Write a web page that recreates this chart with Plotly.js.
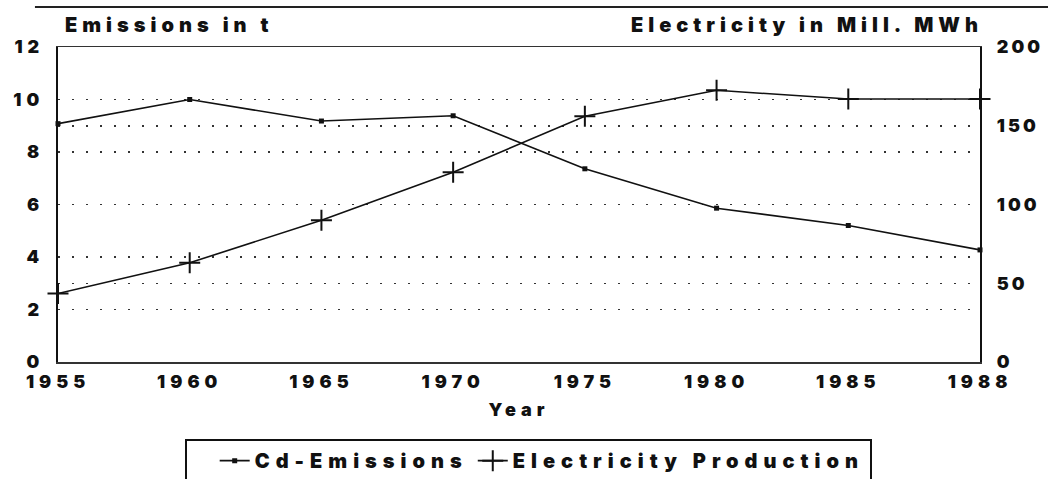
<!DOCTYPE html>
<html>
<head>
<meta charset="utf-8">
<script src="https://cdn.plot.ly/plotly-3.0.1.min.js"></script>
<style>
  html, body { margin: 0; padding: 0; background: #fff; }
  #chart { width: 1048px; height: 479px; }
  svg text { letter-spacing: 5px; }
  svg text.legendtext { letter-spacing: 6px; }
  svg .y2tick text { letter-spacing: 3px; }
</style>
</head>
<body>
<div id="chart"></div>
<script>
const years = ["1955", "1960", "1965", "1970", "1975", "1980", "1985", "1988"];
const cdEmissions = [9.08, 10.0, 9.18, 9.38, 7.36, 5.86, 5.2, 4.27];
const electricity = [43.5, 63, 90, 120.5, 156, 172.5, 167, 167];
const leftTicks = [0, 2, 4, 6, 8, 10, 12];
const rightTicks = [0, 50, 100, 150, 200];

const FONT = "Inter, 'Liberation Sans', sans-serif";
const W = 900;
const tickFont = { family: FONT, size: 18, color: "#111", weight: W };

const traces = [
  {
    x: years, y: cdEmissions, name: "Cd-Emissions", type: "scatter", mode: "lines+markers",
    line: { color: "#111", width: 1.6 },
    marker: { symbol: "square", size: 5, color: "#111" },
    cliponaxis: false, yaxis: "y"
  },
  {
    x: years, y: electricity, name: "Electricity Production", type: "scatter", mode: "lines+markers",
    line: { color: "#111", width: 1.6 },
    marker: { symbol: "cross-thin", size: 15, line: { color: "#111", width: 2 } },
    cliponaxis: false, yaxis: "y2"
  }
];

const layout = {
  width: 1048, height: 479,
  margin: { l: 58, r: 68, t: 47, b: 117, autoexpand: false },
  paper_bgcolor: "#fff", plot_bgcolor: "#fff",
  showlegend: true,
  xaxis: {
    type: "category", range: [0, years.length - 1],
    showgrid: false, zeroline: false,
    showline: true, linecolor: "#333", linewidth: 1.5, mirror: true,
    ticks: "", tickfont: tickFont, ticklabelstandoff: 3, automargin: false,
    title: { text: "Year", font: { family: FONT, size: 18, color: "#111", weight: W }, standoff: 12 }
  },
  yaxis: {
    range: [0, 12], tickvals: leftTicks, ticktext: leftTicks.map(String),
    showgrid: true, gridcolor: "#333", gridwidth: 1.5, griddash: "2px,12px",
    zeroline: false, showline: true, linecolor: "#111", linewidth: 2.2,
    ticks: "", tickfont: tickFont, ticklabelstandoff: 8, automargin: false
  },
  yaxis2: {
    range: [0, 200], tickvals: rightTicks, ticktext: rightTicks.map(String),
    overlaying: "y", side: "right",
    showgrid: true, gridcolor: "#333", gridwidth: 1.5, griddash: "2px,12px",
    zeroline: false, showline: true, linecolor: "#111", linewidth: 2.2,
    ticks: "", tickfont: tickFont, ticklabelstandoff: 11, automargin: false
  },
  legend: {
    orientation: "h", x: 0.51, xanchor: "center", y: -0.245, yanchor: "top",
    bordercolor: "#111", borderwidth: 2, bgcolor: "#fff",
    font: { family: FONT, size: 20, color: "#111", weight: W },
    title: { text: "\u00a0\u00a0", side: "left", font: { family: FONT, size: 20, color: "#111", weight: W } },
    itemwidth: 30
  },
  annotations: [
    { text: "Emissions in t", xref: "paper", yref: "paper", x: 0, y: 1, xanchor: "left", yanchor: "middle",
      xshift: 5, yshift: 22, showarrow: false,
      font: { family: FONT, size: 20, color: "#111", weight: W } },
    { text: "Electricity in Mill. MWh", xref: "paper", yref: "paper", x: 1, y: 1, xanchor: "right", yanchor: "middle",
      xshift: 5, yshift: 22, showarrow: false,
      font: { family: FONT, size: 20, color: "#111", weight: W } }
  ],
  shapes: [
    { type: "line", xref: "paper", yref: "paper", x0: -0.025, x1: 1.08, y0: 1.127, y1: 1.127,
      line: { color: "#222", width: 2 } }
  ]
};

Plotly.newPlot("chart", traces, layout, { displayModeBar: false, staticPlot: true });
</script>
</body>
</html>
